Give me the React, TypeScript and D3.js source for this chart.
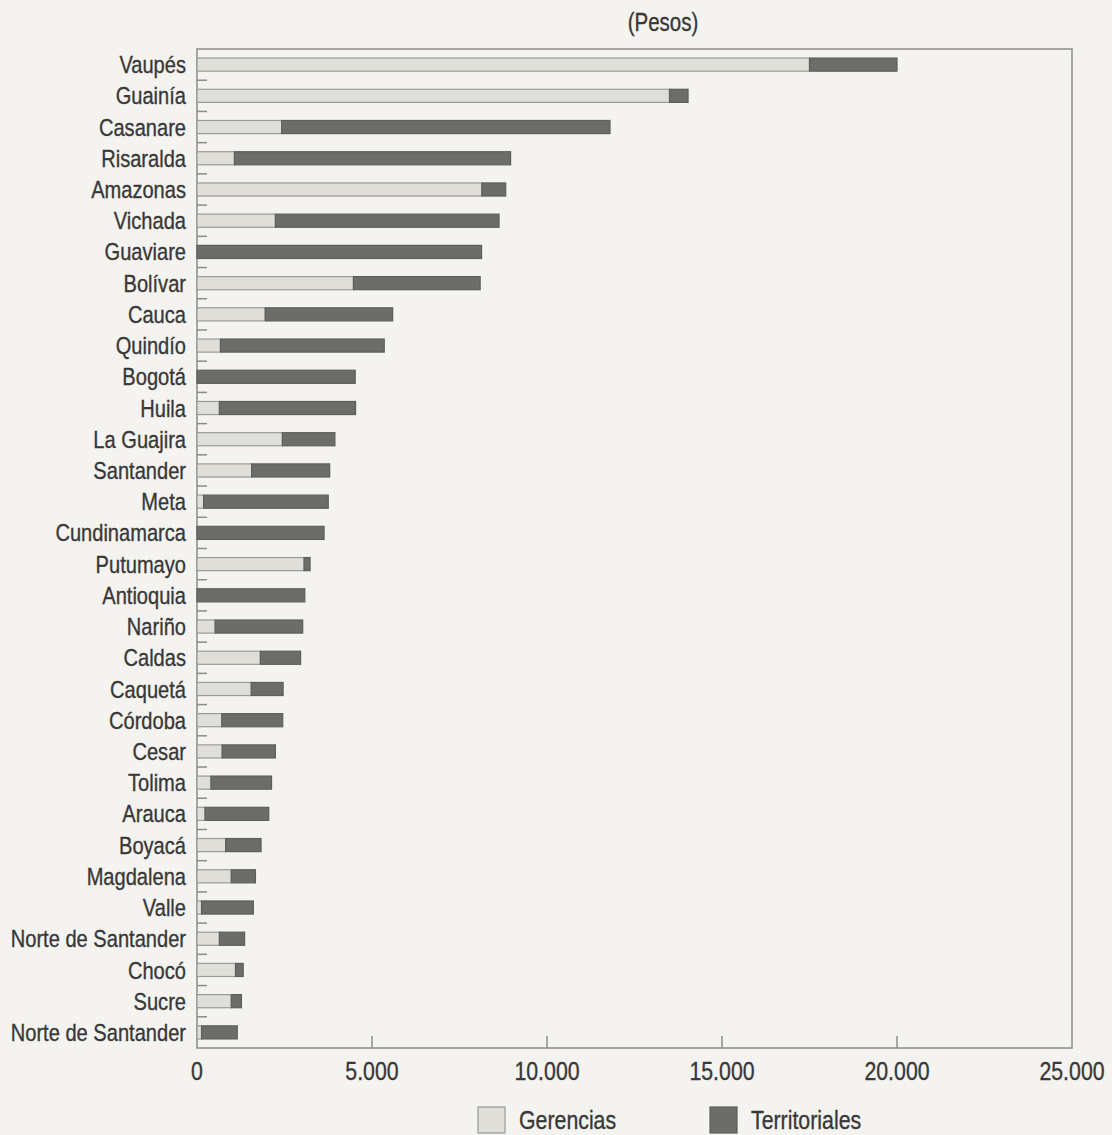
import React from "react";
import * as d3 from "d3";

const categories = [
  "Vaupés", "Guainía", "Casanare", "Risaralda", "Amazonas", "Vichada", "Guaviare", "Bolívar",
  "Cauca", "Quindío", "Bogotá", "Huila", "La Guajira", "Santander", "Meta", "Cundinamarca",
  "Putumayo", "Antioquia", "Nariño", "Caldas", "Caquetá", "Córdoba", "Cesar", "Tolima",
  "Arauca", "Boyacá", "Magdalena", "Valle", "Norte de Santander", "Chocó", "Sucre", "Norte de Santander",
];
const gerencias = [
  17500, 13500, 2420, 1070, 8140, 2240, 0, 4470,
  1950, 670, 0, 640, 2440, 1560, 190, 0,
  3060, 0, 520, 1810, 1550, 710, 720, 400,
  230, 820, 980, 130, 640, 1100, 980, 130,
];
const territoriales = [
  2500, 530, 9380, 7890, 680, 6390, 8130, 3620,
  3640, 4680, 4520, 3890, 1500, 2230, 3560, 3630,
  170, 3080, 2500, 1150, 910, 1740, 1520, 1730,
  1820, 1010, 690, 1480, 720, 220, 290, 1020,
];
const seriesNames = ["Gerencias", "Territoriales"];
const xTicks = [0, 5000, 10000, 15000, 20000, 25000];
const unitLabel = "(Pesos)";

const W = 1112;
const H = 1135;
const left = 197;
const right = 1072;
const top = 49;
const bottom = 1048;
const FONT = '"Liberation Sans", Arial, sans-serif';
const SX = 0.82;
const TEXT = "#383838";
const FRAME = "#8c8c8c";
const LIGHT = "#dfded8";
const LIGHT_STROKE = "#9a9a96";
const DARK = "#6c6c6a";
const BG = "#f4f3ef";

function NText({ x, y, anchor, size, children }: any) {
  return (
    <text
      transform={`translate(${x},${y}) scale(${SX},1)`}
      x={0}
      y={0}
      dy="0.35em"
      textAnchor={anchor}
      fontSize={size}
      fill={TEXT}
      stroke={TEXT}
      strokeWidth={0.35}
    >
      {children}
    </text>
  );
}

export default function App() {
  const rows = categories.map((c, i) => ({
    key: String(i),
    name: c,
    Gerencias: gerencias[i],
    Territoriales: territoriales[i],
  }));
  const stacked = d3.stack<any>().keys(seriesNames)(rows);
  const x = d3.scaleLinear().domain([0, 25000]).range([left, right]);
  const y = d3
    .scaleBand<string>()
    .domain(rows.map((r) => r.key))
    .range([top, bottom])
    .paddingInner(0.58)
    .paddingOuter(0.29);
  const band = (bottom - top) / categories.length;
  const fmt = d3.formatLocale({ thousands: ".", grouping: [3], decimal: ",", currency: ["$", ""] }).format(",d");
  const fills = [LIGHT, DARK];
  const strokes = [LIGHT_STROKE, "#5e5e5c"];

  return (
    <svg width={W} height={H} style={{ position: "absolute", left: 0, top: 0, display: "block" }} fontFamily={FONT}>
      <rect x={0} y={0} width={W} height={H} fill={BG} />
      <NText x={663} y={22} anchor="middle" size={25}>{unitLabel}</NText>
      <rect x={left} y={top} width={right - left} height={bottom - top} fill="none" stroke={FRAME} strokeWidth={1.5} />
      {d3.range(1, categories.length).map((i) => (
        <line key={"yt" + i} x1={left} x2={left + 10} y1={top + i * band} y2={top + i * band} stroke={FRAME} strokeWidth={1.5} />
      ))}
      {xTicks.slice(1, -1).map((t) => (
        <line key={"xt" + t} x1={x(t)} x2={x(t)} y1={bottom} y2={bottom - 12} stroke={FRAME} strokeWidth={1.5} />
      ))}
      {stacked.map((s, si) => (
        <g key={s.key}>
          {s.map((d, i) => {
            const w = x(d[1]) - x(d[0]);
            if (w <= 0) return null;
            return (
              <rect
                key={i}
                x={x(d[0])}
                y={y(String(i))}
                width={w}
                height={y.bandwidth()}
                fill={fills[si]}
                stroke={strokes[si]}
                strokeWidth={1.2}
              />
            );
          })}
        </g>
      ))}
      {rows.map((r) => (
        <NText key={"l" + r.key} x={186} y={(y(r.key) as number) + y.bandwidth() / 2} anchor="end" size={24.5}>
          {r.name}
        </NText>
      ))}
      {xTicks.map((t) => (
        <NText key={"xl" + t} x={x(t)} y={1071} anchor="middle" size={26}>
          {fmt(t)}
        </NText>
      ))}
      {seriesNames.map((n, i) => {
        const bx = i === 0 ? 478 : 710;
        return (
          <g key={"lg" + n}>
            <rect x={bx} y={1107} width={27} height={26} fill={fills[i]} stroke={strokes[i]} strokeWidth={1.2} />
            <NText x={bx + 41} y={1120} anchor="start" size={26}>{n}</NText>
          </g>
        );
      })}
    </svg>
  );
}
